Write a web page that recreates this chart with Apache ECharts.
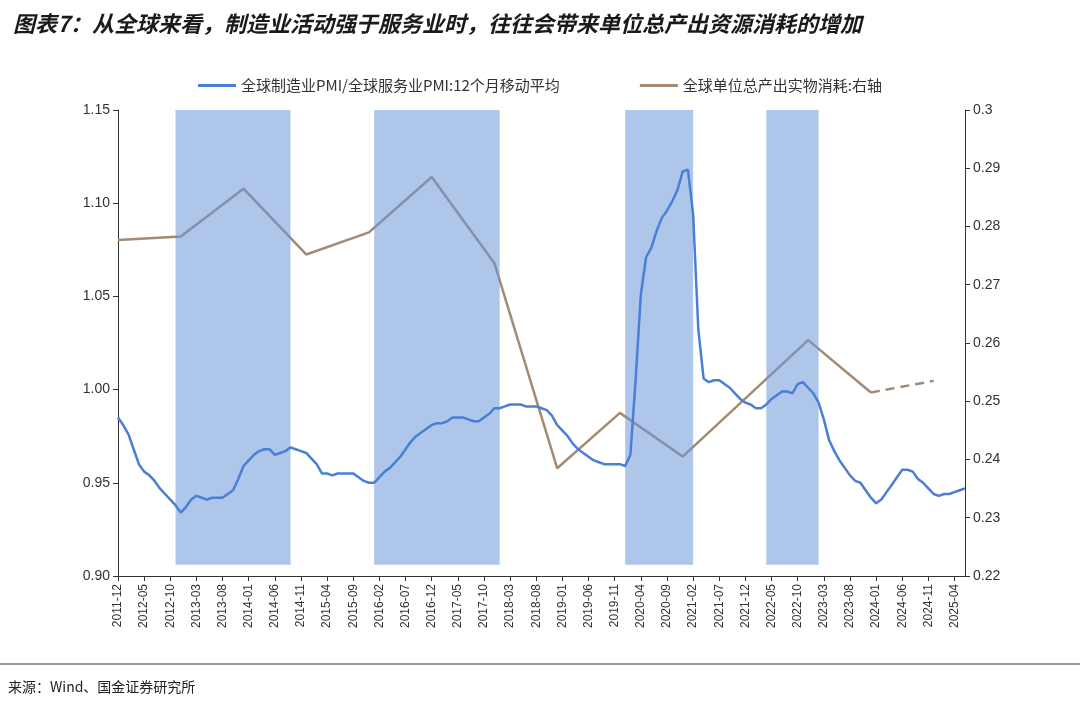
<!DOCTYPE html>
<html><head><meta charset="utf-8">
<script src="https://cdn.jsdelivr.net/npm/echarts@6/dist/echarts.min.js"></script>
<style>body{margin:0;background:#fff}#c{width:1080px;height:704px}</style>
</head><body><div id="c"></div>
<script>
const startYear=2011, startMonth=12, nMonths=163;
const categories=[];
for(let i=0;i<nMonths;i++){const t=startYear*12+(startMonth-1)+i;const y=Math.floor(t/12),m=t%12+1;categories.push(y+'-'+(m<10?'0':'')+m);}
const pmiRatio=[.985,.981,.976,.968,.960,.956,.954,.951,.947,.944,
.941,.938,.934,.937,.941,.943,.942,.941,.942,.942,
.942,.944,.946,.952,.959,.962,.965,.967,.968,.968,
.965,.966,.967,.969,.968,.967,.966,.963,.960,.955,
.955,.954,.955,.955,.955,.955,.953,.951,.950,.950,
.953,.956,.958,.961,.964,.968,.972,.975,.977,.979,
.981,.982,.982,.983,.985,.985,.985,.984,.983,.983,
.985,.987,.990,.990,.991,.992,.992,.992,.991,.991,
.991,.990,.989,.986,.981,.978,.975,.971,.968,.966,
.964,.962,.961,.960,.960,.960,.960,.959,.965,1.005,
1.051,1.071,1.076,1.085,1.092,1.096,1.101,1.107,1.117,1.118,
1.094,1.032,1.006,1.004,1.005,1.005,1.003,1.001,.998,.995,
.993,.992,.990,.990,.992,.995,.997,.999,.999,.998,
1.003,1.004,1.001,.998,.993,.984,.973,.967,.962,.958,
.954,.951,.950,.946,.942,.939,.941,.945,.949,.953,
.957,.957,.956,.952,.950,.947,.944,.943,.944,.944,
.945,.946,.947];
const resDates=['2011-12','2012-12','2013-12','2014-12','2015-12','2016-12','2017-12','2018-12','2019-12','2020-12','2022-12','2023-12'];
const resVals=[.2777,.2783,.2865,.2752,.279,.2885,.2737,.2385,.248,.2405,.2605,.2515];
const resDashDates=['2023-12','2024-12'];
const resDashVals=[.2515,.2535];
const bands=[['2012-11','2014-09'],['2016-01','2018-01'],['2020-01','2021-02'],['2022-04','2023-02']];
function spread(d,v){const a=new Array(nMonths).fill(null);d.forEach((x,i)=>{a[categories.indexOf(x)]=v[i];});return a;}
const ch=echarts.init(document.getElementById('c'));
ch.setOption({
 animation:false,
 title:{text:'图表7：从全球来看，制造业活动强于服务业时，往往会带来单位总产出资源消耗的增加',left:8,top:8,
  textStyle:{fontSize:22,fontWeight:'bold',fontStyle:'italic',color:'#1a1a1a',fontFamily:'Noto Sans CJK SC'}},
 graphic:[{type:'line',shape:{x1:0,y1:664,x2:1080,y2:664},style:{stroke:'#333',lineWidth:1}},
  {type:'text',left:8,top:680,style:{text:'来源：Wind、国金证券研究所',font:'14px "Noto Sans CJK SC"',fill:'#222'}}],
 legend:{top:73,left:'center',itemGap:80,textStyle:{fontSize:15,color:'#333',fontFamily:'Noto Sans CJK SC'},
  data:[{name:'全球制造业PMI/全球服务业PMI:12个月移动平均',icon:'rect'},{name:'全球单位总产出实物消耗:右轴',icon:'rect'}],itemWidth:38,itemHeight:3},
 grid:{left:118,right:115,top:110,bottom:128},
 xAxis:{type:'category',data:categories,boundaryGap:false,
  axisLine:{lineStyle:{color:'#333'}},axisTick:{show:true,interval:4,inside:false},
  axisLabel:{interval:4,rotate:90,fontSize:12,color:'#333'}},
 yAxis:[{type:'value',min:0.9,max:1.15,interval:0.05,axisLabel:{formatter:v=>v.toFixed(2),fontSize:14,color:'#333'},
   axisLine:{show:true,lineStyle:{color:'#333'}},axisTick:{show:true},splitLine:{show:false}},
  {type:'value',min:0.22,max:0.30,interval:0.01,axisLabel:{formatter:v=>(+v.toFixed(2)).toString(),fontSize:14,color:'#333'},
   axisLine:{show:true,lineStyle:{color:'#333'}},axisTick:{show:true},splitLine:{show:false}}],
 series:[
  {name:'全球单位总产出实物消耗:右轴',type:'line',yAxisIndex:1,data:spread(resDates,resVals),connectNulls:true,symbol:'none',z:1,
   lineStyle:{color:'#A58A72',width:2.5},itemStyle:{color:'#A58A72'}},
  {name:'dash',type:'line',yAxisIndex:1,data:spread(resDashDates,resDashVals),connectNulls:true,symbol:'none',z:1,
   lineStyle:{color:'#A58A72',width:2.5,type:[9,6]}},
  {name:'bands',type:'line',data:[],z:5,
   markArea:{silent:true,z:5,itemStyle:{color:'rgba(108,151,217,0.55)'},
    data:bands.map(b=>[{coord:[b[0],1.15]},{coord:[b[1],0.906]}])}},
  {name:'全球制造业PMI/全球服务业PMI:12个月移动平均',type:'line',data:pmiRatio,symbol:'none',z:10,
   lineStyle:{color:'#4A7FD6',width:2.5},itemStyle:{color:'#4A7FD6'}}
 ]
});
</script></body></html>
